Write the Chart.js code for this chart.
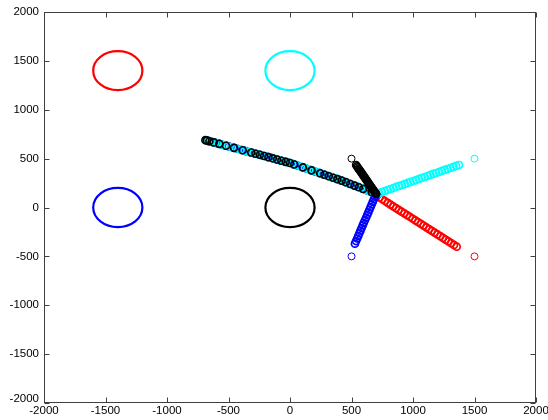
<!DOCTYPE html>
<html><head><meta charset="utf-8">
<script src="https://cdn.jsdelivr.net/npm/chart.js@4"></script>
<style>html,body{margin:0;padding:0;background:#fff}canvas{display:block}</style>
</head><body>
<canvas id="c" width="548" height="420"></canvas>
<script>
// ---- axis ticks ----
const tickValues = [-2000, -1500, -1000, -500, 0, 500, 1000, 1500, 2000];
const tickLabels = ['-2000', '-1500', '-1000', '-500', '0', '500', '1000', '1500', '2000'];

// ---- target circles ----
const circleX = [-1400, 0, -1400, 0];
const circleY = [1400, 1400, 0, 0];
const circleR = [200, 200, 200, 200];
const circleColors = ['#ff0000', '#00ffff', '#0000ff', '#000000'];

// ---- start positions ----
const startX = [1500, 1500, 500, 500];
const startY = [-500, 500, -500, 500];

// ---- approach trails (start -> meeting point) ----
const blackApproachX = [537, 544, 550, 556, 562, 568, 575, 581, 587, 593, 600, 606, 612, 618, 625, 631, 637, 643, 650, 656, 662, 668, 675, 681, 687, 694, 700];
const blackApproachY = [435, 423, 412, 400, 389, 378, 367, 355, 344, 332, 321, 309, 298, 287, 275, 264, 253, 241, 230, 218, 207, 196, 184, 173, 161, 150, 138];
const cyanApproachX = [1374, 1351, 1328, 1304, 1281, 1258, 1235, 1211, 1188, 1165, 1142, 1119, 1095, 1072, 1049, 1026, 1002, 979, 956, 933, 910, 886, 863, 840, 817, 793, 770, 747, 724, 700];
const cyanApproachY = [435, 425, 415, 404, 394, 384, 374, 363, 353, 343, 333, 322, 312, 302, 292, 281, 271, 261, 251, 240, 230, 220, 210, 199, 189, 179, 169, 158, 148, 138];
const blueApproachX = [528, 537, 546, 555, 564, 573, 582, 591, 600, 609, 619, 628, 637, 646, 655, 664, 673, 682, 691, 700];
const blueApproachY = [-370, -343, -317, -290, -263, -237, -210, -183, -157, -130, -103, -76, -50, -23, 4, 31, 57, 84, 111, 138];
const redApproachX = [1355, 1333, 1310, 1288, 1265, 1243, 1221, 1198, 1176, 1153, 1131, 1108, 1086, 1064, 1041, 1019, 996, 974, 952, 929, 907, 884, 862, 839, 817, 795, 772, 750, 727, 705];
const redApproachY = [-401, -383, -365, -347, -329, -311, -293, -275, -257, -239, -221, -203, -185, -167, -149, -131, -113, -95, -78, -60, -42, -24, -6, 12, 30, 48, 66, 84, 102, 120];

// ---- shared path (meeting point -> upper left) ----
const blackPathX = [665, 595, 560, 525, 490, 455, 420, 385, 350, 315, 280, 245, 175, 105, 35, 0, -35, -70, -105, -140, -175, -210, -245, -280, -315, -385, -455, -520, -575, -620, -655, -675, -688];
const blackPathY = [157, 190, 207, 224, 241, 258, 275, 290, 305, 320, 335, 350, 380, 410, 440, 455, 467, 479, 491, 503, 515, 527, 539, 550, 562, 586, 610, 632, 651, 666, 678, 685, 689];
const cyanPathX = [683, 648, 612, 578, 542, 508, 472, 438, 402, 368, 332, 298, 262, 228, 192, 158, 122, 88, 52, 18, -18, -52, -88, -122, -158, -192, -228, -262, -298, -332, -368, -402, -438, -472, -505, -535, -562, -588, -610, -630, -648, -660, -670];
const cyanPathY = [148, 165, 182, 199, 216, 232, 250, 266, 283, 298, 313, 328, 343, 358, 373, 387, 403, 417, 433, 447, 461, 473, 485, 497, 509, 520, 533, 544, 557, 568, 580, 592, 604, 616, 627, 637, 647, 656, 663, 670, 676, 680, 683];
const bluePathX = [690, 656, 621, 586, 551, 516, 481, 446, 411, 376, 341, 306, 271, 236, 201, 166, 131, 96, 61, 26, -9, -44, -79, -114, -149, -184, -219, -254, -289, -324, -359, -394, -429, -464, -498, -528, -557, -582, -605, -625, -643, -657, -667, -677];
const bluePathY = [145, 161, 178, 195, 212, 228, 245, 262, 279, 294, 309, 324, 339, 354, 369, 384, 399, 414, 429, 444, 458, 470, 482, 494, 506, 518, 530, 542, 554, 565, 577, 589, 601, 613, 625, 635, 645, 653, 661, 668, 674, 679, 682, 686];
const redPathX = [675, 605, 535, 465, 395, 325, 255, 185, 115, 45, -25, -95, -165, -235, -305, -375, -445, -515, -585, -640, -672];
const redPathY = [152, 186, 219, 253, 286, 316, 346, 376, 406, 436, 464, 487, 511, 535, 559, 583, 607, 631, 654, 673, 684];

function pts(xs, ys) { return xs.map((x, i) => ({x: x, y: ys[i]})); }

// first dataset is drawn on top
const series = [
  {x: blackApproachX, y: blackApproachY, color: '#000000', w: 1.5},
  {x: blueApproachX, y: blueApproachY, color: '#0000ff', w: 1.7},
  {x: cyanApproachX, y: cyanApproachY, color: '#00ffff', w: 1.7},
  {x: redApproachX, y: redApproachY, color: '#ff0000', w: 1.7},
  {x: blackPathX, y: blackPathY, color: '#000000', w: 1.6},
  {x: cyanPathX, y: cyanPathY, color: '#00ffff', w: 1.6},
  {x: bluePathX, y: bluePathY, color: '#0000ff', w: 1.6},
  {x: redPathX, y: redPathY, color: '#ff0000', w: 1.4}
];
const startColors = ['#ff0000', '#00ffff', '#0000ff', '#000000'];

const datasets = [];
series.forEach(a => datasets.push({
  data: pts(a.x, a.y), borderColor: a.color, backgroundColor: 'rgba(0,0,0,0)',
  pointRadius: 3.5, pointBorderWidth: a.w, pointStyle: 'circle'
}));
startX.forEach((x, i) => datasets.push({
  data: [{x: x, y: startY[i]}], borderColor: startColors[i], backgroundColor: 'rgba(0,0,0,0)',
  pointRadius: 3.5, pointBorderWidth: 1, pointStyle: 'circle'
}));

const circlesPlugin = {
  id: 'circles',
  beforeDatasetsDraw(chart) {
    const ctx = chart.ctx, xs = chart.scales.x, ys = chart.scales.y;
    ctx.save();
    ctx.lineWidth = 2.2;
    circleX.forEach((cx, i) => {
      const px = xs.getPixelForValue(cx), py = ys.getPixelForValue(circleY[i]);
      const rx = Math.abs(xs.getPixelForValue(cx + circleR[i]) - px);
      const ry = Math.abs(ys.getPixelForValue(circleY[i] + circleR[i]) - py);
      ctx.strokeStyle = circleColors[i];
      ctx.beginPath();
      ctx.ellipse(px, py, rx, ry, 0, 0, Math.PI * 2);
      ctx.stroke();
    });
    ctx.restore();
  }
};

const framePlugin = {
  id: 'frame',
  afterDraw(chart) {
    const ctx = chart.ctx, a = chart.chartArea, xs = chart.scales.x, ys = chart.scales.y;
    ctx.save();
    ctx.strokeStyle = '#404040';
    ctx.lineWidth = 1;
    const L = Math.round(a.left) + 0.5, R = Math.round(a.right) - 0.5;
    const T = Math.round(a.top) + 0.5, B = Math.round(a.bottom) - 0.5;
    ctx.strokeRect(L, T, R - L, B - T);
    const tl = 5;
    ctx.beginPath();
    tickValues.forEach(v => {
      const px = Math.round(xs.getPixelForValue(v)) + 0.5;
      ctx.moveTo(px, B); ctx.lineTo(px, B - tl);
      ctx.moveTo(px, T); ctx.lineTo(px, T + tl);
      const py = Math.round(ys.getPixelForValue(v)) + 0.5;
      ctx.moveTo(L, py); ctx.lineTo(L + tl, py);
      ctx.moveTo(R, py); ctx.lineTo(R - tl, py);
    });
    ctx.stroke();
    ctx.fillStyle = '#000';
    ctx.font = '11.5px "Liberation Sans", Arial, sans-serif';
    ctx.textAlign = 'center';
    ctx.textBaseline = 'top';
    tickValues.forEach((v, i) => {
      ctx.fillText(tickLabels[i], xs.getPixelForValue(v), a.bottom + 2);
    });
    ctx.textAlign = 'right';
    ctx.textBaseline = 'middle';
    tickValues.forEach((v, i) => {
      let py = ys.getPixelForValue(v);
      if (i === 0) py -= 4;
      ctx.fillText(tickLabels[i], a.left - 5, py);
    });
    ctx.restore();
  }
};

new Chart(document.getElementById('c'), {
  type: 'scatter',
  data: {datasets: datasets},
  options: {
    responsive: false,
    animation: false,
    devicePixelRatio: 1,
    events: [],
    layout: {padding: {left: 44, right: 12, top: 12, bottom: 17}},
    plugins: {legend: {display: false}, tooltip: {enabled: false}},
    scales: {
      x: {type: 'linear', min: -2000, max: 2000, display: false},
      y: {type: 'linear', min: -2000, max: 2000, display: false}
    }
  },
  plugins: [circlesPlugin, framePlugin]
});
</script>
</body></html>
